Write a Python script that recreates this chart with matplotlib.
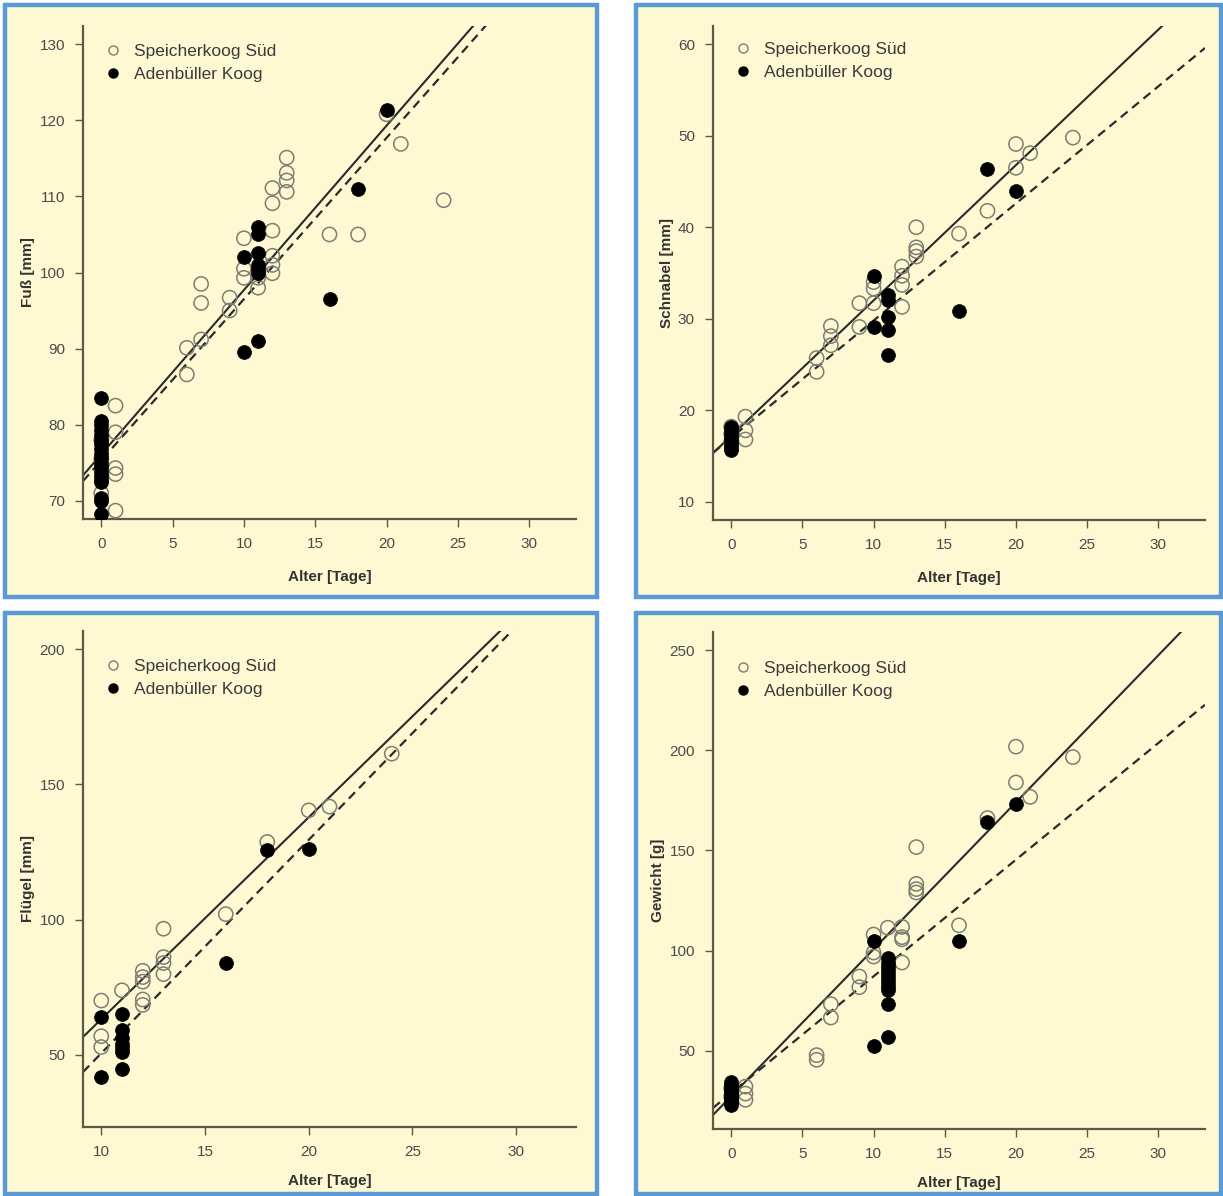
import matplotlib
matplotlib.use("Agg")
import matplotlib.pyplot as plt
from matplotlib.patches import Rectangle
from matplotlib.lines import Line2D
import numpy as np

plt.rcParams["font.family"] = ["Liberation Sans", "DejaVu Sans"]

# ---------------------------------------------------------------------------
# Data read off the reference (Alter [Tage] vs. measurement)
# ---------------------------------------------------------------------------

# Fuß [mm]
fuss_sued_x = [0, 0, 0, 1, 1, 1, 1, 1, 6, 6, 7, 7, 7, 9, 9, 10, 10, 10, 11, 11,
               12, 12, 12, 12, 12, 12, 13, 13, 13, 13, 16, 18, 20, 21, 24]
fuss_sued_y = [71.0, 75.5, 78.0, 82.5, 79.0, 74.3, 73.5, 68.7, 90.1, 86.6,
               98.5, 96.0, 91.2, 96.7, 95.0, 104.5, 100.5, 99.3, 98.0, 99.3,
               111.1, 109.1, 105.5, 102.2, 101.0, 99.9, 115.1, 113.1, 112.1,
               110.6, 105.0, 105.0, 120.8, 116.9, 109.5]
fuss_aden_x = [0] * 19 + [10, 10, 11, 11, 11, 11, 11, 11, 11, 16, 18, 20]
fuss_aden_y = [83.5, 80.5, 80.0, 79.3, 78.6, 78.0, 77.4, 76.8, 76.2, 75.6,
               75.0, 74.4, 73.8, 73.2, 72.7, 72.5, 70.3, 70.0, 68.2,
               102.0, 89.5, 106.0, 105.0, 102.5, 101.0, 100.5, 100.0, 91.0,
               96.5, 111.0, 121.4]

# Schnabel [mm]
schnabel_sued_x = [0, 0, 0, 1, 1, 1, 6, 6, 7, 7, 7, 9, 9, 10, 10, 10,
                   12, 12, 12, 12, 13, 13, 13, 13, 16, 18, 20, 20, 21, 24]
schnabel_sued_y = [18.2, 17.4, 16.6, 19.3, 17.8, 16.8, 25.7, 24.2, 29.2, 28.1,
                   27.1, 31.7, 29.1, 34.0, 33.3, 31.7, 35.7, 34.7, 33.7, 31.3,
                   40.0, 37.8, 37.4, 36.8, 39.3, 41.8, 49.1, 46.5, 48.1, 49.8]
schnabel_aden_x = [0] * 8 + [10, 10, 11, 11, 11, 11, 11, 16, 18, 20]
schnabel_aden_y = [18.2, 17.8, 17.4, 17.0, 16.6, 16.2, 15.9, 15.6,
                   34.7, 29.1, 32.6, 32.0, 30.2, 28.8, 26.0, 30.8, 46.4, 44.0]

# Flügel [mm]
fluegel_sued_x = [10, 10, 10, 11, 12, 12, 12, 12, 12, 13, 13, 13, 13,
                  16, 18, 20, 21, 24]
fluegel_sued_y = [70.0, 56.8, 52.8, 73.8, 81.0, 78.7, 77.0, 70.4, 68.4,
                  96.6, 86.1, 83.9, 79.8, 102.0, 128.7, 140.4, 141.8, 161.4]
fluegel_aden_x = [10, 10, 11, 11, 11, 11, 11, 11, 11, 16, 18, 20]
fluegel_aden_y = [64.0, 41.8, 65.0, 59.0, 56.3, 54.0, 52.3, 51.0, 44.8,
                  83.8, 125.9, 126.2]

# Gewicht [g]
gewicht_sued_x = [0, 0, 1, 1, 1, 6, 6, 7, 7, 9, 9, 10, 10, 10, 11,
                  12, 12, 12, 12, 13, 13, 13, 13, 16, 18, 20, 20, 21, 24]
gewicht_sued_y = [31.0, 27.0, 32.0, 28.5, 25.4, 47.7, 45.4, 73.2, 66.5,
                  87.0, 81.7, 108.0, 99.0, 97.0, 111.4, 111.8, 106.7, 105.6,
                  94.0, 151.7, 133.3, 130.7, 129.0, 112.6, 166.2, 201.9,
                  184.0, 176.8, 196.7]
gewicht_aden_x = [0] * 12 + [10, 10] + [11] * 11 + [16, 18, 20]
gewicht_aden_y = [34.5, 33.0, 32.0, 31.0, 30.0, 29.0, 28.0, 27.0, 26.0, 25.0,
                  24.0, 23.0, 105.0, 52.5, 96.5, 94.0, 92.0, 90.0, 88.0, 86.0,
                  84.0, 82.0, 80.5, 73.5, 57.0, 105.0, 164.2, 173.0]

# regression lines (intercept, slope) as drawn in the reference
fuss_fit_sued, fuss_fit_aden = (76.1, 2.16), (75.3, 2.12)
schnabel_fit_sued, schnabel_fit_aden = (17.2, 1.48), (17.0, 1.28)
fluegel_fit_sued, fluegel_fit_aden = (-11.65, 7.475), (-28.5, 7.9)
gewicht_fit_sued, gewicht_fit_aden = (27.2, 7.345), (28.8, 5.83)

legend_labels = ["Speicherkoog Süd", "Adenbüller Koog"]

# ---------------------------------------------------------------------------
# Layout (pixel boxes of the reference)
# ---------------------------------------------------------------------------

W, H = 1223, 1196
CREAM = "#FFF9D3"
BLUE = "#5B9BD5"
AXCOL = "#5c5a45"
TXT = "#4a4a4a"


def _fig_box(x0, y0, x1, y1):
    return [x0 / W, 1 - y1 / H, (x1 - x0) / W, (y1 - y0) / H]


fig = plt.figure(figsize=(W / 100, H / 100), dpi=100)

for (x0, y0, x1, y1) in [(5, 5, 597, 597), (636, 5, 1221, 597),
                         (5, 613, 597, 1194), (636, 613, 1221, 1194)]:
    l, b, w, h = _fig_box(x0, y0, x1, y1)
    fig.add_artist(Rectangle((l, b), w, h, transform=fig.transFigure,
                             facecolor=CREAM, edgecolor=BLUE, linewidth=3.2,
                             zorder=0))


def _panel(box, sx, sy, ax_, ay, fit_s, fit_a, xlim, ylim, xticks, yticks,
           ylabel, leg_y, xpad):
    ax = fig.add_axes(_fig_box(*box))
    ax.set_facecolor("none")
    ax.scatter(sx, sy, s=105, facecolors="none", edgecolors="#7d7d72",
               linewidths=1.1, zorder=3)
    ax.scatter(ax_, ay, s=100, color="black", edgecolors="black",
               linewidths=0.5, zorder=4)
    xs = np.array(xlim)
    ax.plot(xs, fit_s[0] + fit_s[1] * xs, color="#2a2a2a", lw=1.5, zorder=2)
    ax.plot(xs, fit_a[0] + fit_a[1] * xs, color="#2a2a2a", lw=1.6,
            dashes=(4, 2.6), zorder=2)
    ax.set_xlim(*xlim)
    ax.set_ylim(*ylim)
    ax.set_xticks(xticks)
    ax.set_yticks(yticks)
    for side in ("top", "right"):
        ax.spines[side].set_visible(False)
    for side in ("left", "bottom"):
        ax.spines[side].set_color(AXCOL)
        ax.spines[side].set_linewidth(1.6)
    ax.tick_params(direction="out", length=6, width=1.0, color=AXCOL,
                   labelsize=11, labelcolor=TXT, pad=7)
    ax.set_xlabel("Alter [Tage]", fontsize=11, fontweight="bold",
                  color="#333333", labelpad=xpad)
    ax.set_ylabel(ylabel, fontsize=11, fontweight="bold", color="#333333",
                  labelpad=3)
    handles = [
        Line2D([], [], ls="none", marker="o", markersize=6.5,
               markerfacecolor="none", markeredgecolor="#7d7d72",
               markeredgewidth=1.0),
        Line2D([], [], ls="none", marker="o", markersize=6.5,
               color="black"),
    ]
    ax.legend(handles, legend_labels, loc="upper left",
              bbox_to_anchor=(0.03, leg_y), frameon=False, fontsize=12.5,
              handlelength=1.0, handletextpad=0.7, labelspacing=0.45,
              borderaxespad=0, labelcolor="#3a3a3a")
    return ax


x_std = (-1.28, 33.28)
_panel((83, 26, 576, 519), fuss_sued_x, fuss_sued_y, fuss_aden_x, fuss_aden_y,
       fuss_fit_sued, fuss_fit_aden, x_std, (67.6, 132.4),
       [0, 5, 10, 15, 20, 25, 30], [70, 80, 90, 100, 110, 120, 130],
       "Fuß [mm]", 0.978, 14)
_panel((713, 26, 1205, 520), schnabel_sued_x, schnabel_sued_y,
       schnabel_aden_x, schnabel_aden_y, schnabel_fit_sued, schnabel_fit_aden,
       x_std, (8, 62), [0, 5, 10, 15, 20, 25, 30], [10, 20, 30, 40, 50, 60],
       "Schnabel [mm]", 0.982, 14)
_panel((83, 631, 576, 1127), fluegel_sued_x, fluegel_sued_y,
       fluegel_aden_x, fluegel_aden_y, fluegel_fit_sued, fluegel_fit_aden,
       (9.12, 32.88), (23.2, 206.8), [10, 15, 20, 25, 30],
       [50, 100, 150, 200], "Flügel [mm]", 0.958, 11)
_panel((713, 632, 1205, 1129), gewicht_sued_x, gewicht_sued_y,
       gewicht_aden_x, gewicht_aden_y, gewicht_fit_sued, gewicht_fit_aden,
       x_std, (10.8, 259.2), [0, 5, 10, 15, 20, 25, 30],
       [50, 100, 150, 200, 250], "Gewicht [g]", 0.955, 11)

fig.savefig("out.png", dpi=100)
